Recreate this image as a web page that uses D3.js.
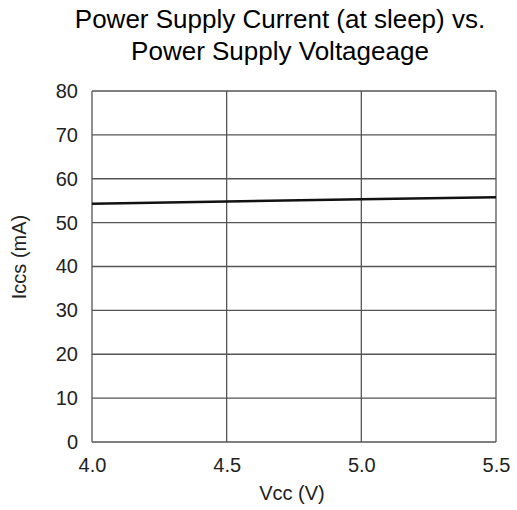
<!DOCTYPE html>
<html><head><meta charset="utf-8">
<script src="https://cdn.jsdelivr.net/npm/d3@7"></script>
<style>body{margin:0;background:#fff;}svg{display:block;font-family:"Liberation Sans",Arial,sans-serif;}</style>
</head><body>
<script>
const vcc = [4.0, 4.5, 5.0, 5.5];
const iccs = [54.3, 54.8, 55.3, 55.8];
const xTicks = [4.0, 4.5, 5.0, 5.5];
const yTicks = [0, 10, 20, 30, 40, 50, 60, 70, 80];
const titleLines = ["Power Supply Current (at sleep) vs.", "Power Supply Voltageage"];

const W = 517, H = 510;
const m = {left: 92, right: 496, top: 91, bottom: 442};
const FONT = "Liberation Sans, Arial, sans-serif";
const svg = d3.select("body").append("svg").attr("width", W).attr("height", H);
const x = d3.scaleLinear().domain([4.0, 5.5]).range([m.left, m.right]);
const y = d3.scaleLinear().domain([0, 80]).range([m.bottom, m.top]);

svg.selectAll("text.title").data(titleLines).join("text").attr("class", "title")
  .attr("x", 280).attr("y", (d,i) => 28 + i*32)
  .attr("text-anchor", "middle").attr("font-size", 26).attr("fill", "#000").text(d => d);

const g = svg.append("g");
g.selectAll("line.h").data(yTicks).join("line").attr("class", "h")
  .attr("x1", m.left).attr("x2", m.right).attr("y1", d => y(d)).attr("y2", d => y(d))
  .attr("stroke", "#555").attr("stroke-width", 1.3);
g.selectAll("line.v").data(xTicks).join("line").attr("class", "v")
  .attr("y1", m.top).attr("y2", m.bottom).attr("x1", d => x(d)).attr("x2", d => x(d))
  .attr("stroke", "#555").attr("stroke-width", 1.3);

const yAxis = d3.axisLeft(y).tickValues(yTicks).tickSize(0).tickPadding(14).tickFormat(d3.format("d"));
svg.append("g").attr("transform", `translate(${m.left},0)`).call(yAxis)
  .call(s => s.select(".domain").remove())
  .selectAll("text").attr("font-size", 20).attr("fill", "#222").attr("font-family", FONT);
const xAxis = d3.axisBottom(x).tickValues(xTicks).tickSize(0).tickPadding(16).tickFormat(d3.format(".1f"));
svg.append("g").attr("transform", `translate(0,${m.bottom})`).call(xAxis)
  .call(s => s.select(".domain").remove())
  .selectAll("text").attr("font-size", 20).attr("fill", "#222").attr("font-family", FONT);

const line = d3.line().x((d,i) => x(vcc[i])).y(d => y(d));
svg.append("path").datum(iccs).attr("d", line).attr("fill", "none")
  .attr("stroke", "#111").attr("stroke-width", 2.5);

svg.append("text").attr("x", 292).attr("y", 500).attr("text-anchor", "middle")
  .attr("font-size", 20).attr("fill", "#222").text("Vcc (V)");
svg.append("text").attr("transform", `translate(26,257) rotate(-90)`)
  .attr("text-anchor", "middle").attr("font-size", 20).attr("fill", "#222").text("Iccs (mA)");
</script>
</body></html>
